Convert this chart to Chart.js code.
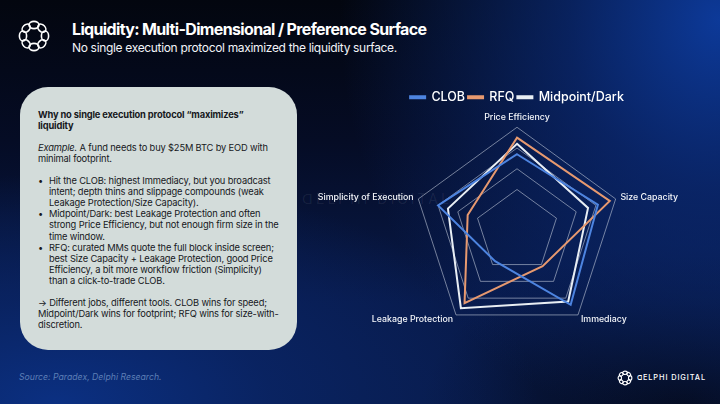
<!DOCTYPE html>
<html>
<head>
<meta charset="utf-8">
<script src="https://cdn.jsdelivr.net/npm/chart.js@4"></script>
<style>
html,body{margin:0;padding:0;}
body{width:720px;height:404px;overflow:hidden;position:relative;font-family:Inter,"Noto Sans",sans-serif;
background:
 radial-gradient(ellipse 380px 420px at 100% 5%, rgba(13,60,160,0.95) 0%, rgba(11,45,125,0.7) 40%, rgba(8,28,80,0) 100%),
 radial-gradient(ellipse 480px 230px at 8% 100%, rgba(11,48,130,1) 0%, rgba(10,38,105,0.75) 45%, rgba(6,18,50,0) 100%),
 radial-gradient(ellipse 260px 160px at 95% 100%, rgba(4,8,22,0.9) 0%, rgba(4,8,22,0) 100%),
 linear-gradient(180deg,#03060f 0%,#050c25 35%,#081a4a 75%,#081a48 100%);}
#title{position:absolute;left:72px;top:19px;color:#fff;font-weight:700;font-size:16px;letter-spacing:-0.65px;white-space:nowrap;}
#subtitle{position:absolute;left:72px;top:40px;color:#f2f4f8;font-size:12px;letter-spacing:-0.33px;white-space:nowrap;}
#logo{position:absolute;left:17px;top:19px;}
#panel{position:absolute;left:20px;top:87px;width:277px;height:263px;background:#d3dcda;border-radius:28px;}
#ptext{position:absolute;left:38px;top:109px;width:242px;color:#16181c;font-size:9.3px;line-height:11.05px;letter-spacing:-0.15px;}
#ptext p{margin:0;}
#ptext .h{font-weight:700;}
#ptext ul{margin:0;padding:0;list-style:none;}
#ptext li{position:relative;padding-left:11px;}
#ptext li:before{content:"•";position:absolute;left:0;}
#source{position:absolute;left:19px;top:372px;color:#5d7fb6;font-style:italic;font-size:8.7px;}
#wm{position:absolute;left:302px;top:190px;color:rgba(255,255,255,0.07);font-size:14px;letter-spacing:3px;white-space:nowrap;}
#brand{position:absolute;left:617px;top:370px;}
#brandtxt{position:absolute;left:637px;top:373px;color:#fff;font-size:7.4px;letter-spacing:0.9px;font-weight:500;white-space:nowrap;}
#wrap{position:absolute;left:285px;top:88px;width:464px;height:256px;}
</style>
</head>
<body>
<svg id="logo" width="34" height="34" viewBox="0 0 34 34">
 <g fill="none" stroke="#fff" stroke-width="1.6">
  <ellipse cx="17" cy="6" rx="5" ry="3.6"/>
  <ellipse cx="17" cy="28" rx="5" ry="3.6"/>
  <ellipse cx="6" cy="17" rx="3.6" ry="5"/>
  <ellipse cx="28" cy="17" rx="3.6" ry="5"/>
  <ellipse cx="9.2" cy="9.2" rx="4.6" ry="3.4" transform="rotate(-45 9.2 9.2)"/>
  <ellipse cx="24.8" cy="9.2" rx="4.6" ry="3.4" transform="rotate(45 24.8 9.2)"/>
  <ellipse cx="9.2" cy="24.8" rx="4.6" ry="3.4" transform="rotate(45 9.2 24.8)"/>
  <ellipse cx="24.8" cy="24.8" rx="4.6" ry="3.4" transform="rotate(-45 24.8 24.8)"/>
 </g>
</svg>
<div id="title">Liquidity: Multi-Dimensional / Preference Surface</div>
<div id="subtitle">No single execution protocol maximized the liquidity surface.</div>
<div id="panel"></div>
<div id="wm">ᗡELPHI DIGITAL</div>
<div id="wrap"><canvas id="c"></canvas></div>
<div id="ptext">
<p class="h">Why no single execution protocol “maximizes” liquidity</p>
<p>&nbsp;</p>
<p><i>Example.</i> A fund needs to buy $25M BTC by EOD with minimal footprint.</p>
<p>&nbsp;</p>
<ul>
<li>Hit the CLOB: highest Immediacy, but you broadcast intent; depth thins and slippage compounds (weak Leakage Protection/Size Capacity).</li>
<li>Midpoint/Dark: best Leakage Protection and often strong Price Efficiency, but not enough firm size in the time window.</li>
<li>RFQ: curated MMs quote the full block inside screen; best Size Capacity + Leakage Protection, good Price Efficiency, a bit more workflow friction (Simplicity) than a click-to-trade CLOB.</li>
</ul>
<p>&nbsp;</p>
<p>→ Different jobs, different tools. CLOB wins for speed; Midpoint/Dark wins for footprint; RFQ wins for size-with-discretion.</p>
</div>
<div id="source">Source: Paradex, Delphi Research.</div>
<svg id="brand" width="16" height="16" viewBox="0 0 34 34">
 <g fill="none" stroke="#fff" stroke-width="2.4">
  <ellipse cx="17" cy="6" rx="5" ry="3.6"/>
  <ellipse cx="17" cy="28" rx="5" ry="3.6"/>
  <ellipse cx="6" cy="17" rx="3.6" ry="5"/>
  <ellipse cx="28" cy="17" rx="3.6" ry="5"/>
  <ellipse cx="9.2" cy="9.2" rx="4.6" ry="3.4" transform="rotate(-45 9.2 9.2)"/>
  <ellipse cx="24.8" cy="9.2" rx="4.6" ry="3.4" transform="rotate(45 24.8 9.2)"/>
  <ellipse cx="9.2" cy="24.8" rx="4.6" ry="3.4" transform="rotate(45 9.2 24.8)"/>
  <ellipse cx="24.8" cy="24.8" rx="4.6" ry="3.4" transform="rotate(-45 24.8 24.8)"/>
 </g>
</svg>
<div id="brandtxt">ᗡELPHI DIGITAL</div>
<script>
const categories = ['Price Efficiency','Size Capacity','Immediacy','Leakage Protection','Simplicity of Execution'];
const seriesNames = ['CLOB','RFQ','Midpoint/Dark'];
const clobValues = [3.7, 4.1, 4.4, 1.8, 4.0];
const rfqValues = [4.5, 4.7, 2.1, 4.3, 2.5];
const midpointValues = [4.2, 3.6, 4.2, 4.6, 3.5];
const tickValues = [1, 2, 3, 4, 5];

const colors = ['#4d84e0', '#e7996f', '#e8eef4'];
const mk = (name, data, col) => ({label: name, data: data, borderColor: col, backgroundColor: col, borderWidth: 2, pointRadius: 0, fill: false, tension: 0});

new Chart(document.getElementById('c'), {
  type: 'radar',
  data: {
    labels: categories,
    datasets: [
      mk(seriesNames[0], clobValues, colors[0]),
      mk(seriesNames[1], rfqValues, colors[1]),
      mk(seriesNames[2], midpointValues, colors[2])
    ]
  },
  options: {
    responsive: true,
    maintainAspectRatio: false,
    animation: false,
    layout: {padding: 0},
    plugins: {
      legend: {
        position: 'top',
        maxHeight: 15.7,
        labels: {color: '#ffffff', font: {family: 'Inter', size: 12.5, weight: '500'}, boxWidth: 15, boxHeight: 2, padding: 3}
      },
      tooltip: {enabled: false}
    },
    scales: {
      r: {
        min: 0, max: 5,
        afterBuildTicks: (s) => { s.ticks = tickValues.map(v => ({value: v})); },
        ticks: {display: false, stepSize: 1},
        grid: {color: 'rgba(190,198,215,0.6)', lineWidth: 1},
        angleLines: {display: false},
        pointLabels: {
          color: '#f4f6fa',
          font: (ctx) => ({family: 'Inter', size: 8.8, weight: '500', lineHeight: ctx.index === 0 ? 1.2 : 0.1}),
          padding: 5
        }
      }
    }
  }
});
</script>
</body>
</html>
